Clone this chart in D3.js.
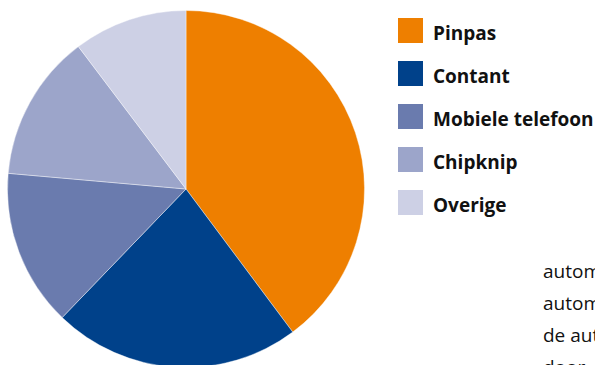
<!DOCTYPE html>
<html>
<head>
<meta charset="utf-8">
<script src="https://cdn.jsdelivr.net/npm/d3@7/dist/d3.min.js"></script>
<style>
  html, body { margin: 0; padding: 0; background: #fff; overflow: hidden; }
  svg { display: block; }
</style>
</head>
<body>
<svg id="chart" width="595" height="365"></svg>
<script>
// Payment methods and their shares (%)
const categories = ["Pinpas", "Contant", "Mobiele telefoon", "Chipknip", "Overige"];
const shares = [39.8, 22.4, 14.2, 13.3, 10.3];
const colors = ["#EE7F00", "#00418A", "#6A7BAE", "#9CA5CA", "#CDD0E5"];

// Running body text beside the chart
const bodyLines = ["automaat", "automaten", "de automaat", "door"];

const svg = d3.select("#chart");
const cx = 186, cy = 189, radius = 178.5;

const data = categories.map((c, i) => ({ name: c, value: shares[i] }));
const color = d3.scaleOrdinal().domain(categories).range(colors);

const pie = d3.pie().sort(null).value(d => d.value).startAngle(0).endAngle(2 * Math.PI);
const arc = d3.arc().innerRadius(0).outerRadius(radius);

svg.append("g")
  .attr("transform", `translate(${cx},${cy})`)
  .selectAll("path")
  .data(pie(data))
  .join("path")
  .attr("d", arc)
  .attr("fill", d => color(d.data.name))
  .attr("stroke", "#fff")
  .attr("stroke-width", 0.4);

// Legend
const legendY = d3.scalePoint().domain(categories).range([18, 190]);
const legend = svg.append("g").selectAll("g")
  .data(categories)
  .join("g")
  .attr("transform", d => `translate(398,${legendY(d)})`);

legend.append("rect")
  .attr("width", 25)
  .attr("height", 25)
  .attr("fill", d => color(d));

legend.append("text")
  .attr("x", 35)
  .attr("y", 21.5)
  .attr("font-family", "'Open Sans', sans-serif")
  .attr("font-weight", 700)
  .attr("font-size", 19)
  .attr("fill", "#111")
  .text(d => d);

// Body text, running on past the page edge
svg.append("g").selectAll("text")
  .data(bodyLines)
  .join("text")
  .attr("x", 543)
  .attr("y", (d, i) => 278 + i * 32)
  .attr("font-family", "'Open Sans', sans-serif")
  .attr("font-size", 19)
  .attr("fill", "#111")
  .text(d => d);
</script>
</body>
</html>
